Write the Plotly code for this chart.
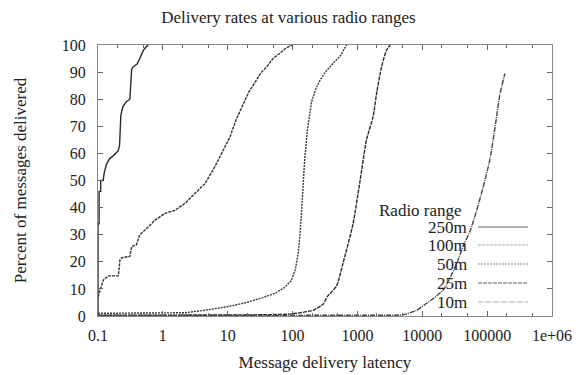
import plotly.graph_objects as go

# ---- data ----
x_250 = [0.1, 0.1, 0.104, 0.104, 0.11, 0.11, 0.12, 0.125, 0.135, 0.15, 0.17, 0.19, 0.205, 0.215, 0.22,
         0.225, 0.24, 0.27, 0.31, 0.32, 0.33, 0.35, 0.4, 0.44, 0.5, 0.56, 0.6]
y_250 = [0, 34, 34, 46, 46, 50, 50, 53, 56, 58, 59, 60, 61, 63, 70,
         74, 77, 79, 80, 88, 91, 92, 93, 95, 98, 99.5, 100]

x_100 = [0.1, 0.107, 0.121, 0.144, 0.206, 0.218, 0.232, 0.31, 0.33, 0.39, 0.44, 0.53, 0.76, 1.08, 1.54,
         2.2, 3.1, 4.5, 6.3, 8.5, 10.8, 13.5, 17.4, 21, 26, 32, 40, 50, 64, 78, 91, 100]
y_100 = [7, 9.6, 13.3, 14.8, 14.8, 20.7, 21.5, 22, 25.6, 26.2, 30, 31.7, 35.4, 37.9, 39,
         41.6, 45.3, 49, 55, 61.3, 66, 72.5, 78.5, 82.5, 86, 89.5, 92, 95, 97, 98.8, 99.6, 100]

x_50 = [0.1, 1, 2.2, 5, 8.1, 10.8, 19.5, 35, 55, 75, 95, 110, 122, 132, 142, 152, 168, 196, 230, 265, 320,
        375, 450, 535, 680]
y_50 = [1, 1, 1.2, 2.3, 3.2, 3.6, 5, 6.8, 8.5, 10.5, 13, 17, 23, 32, 44, 56, 68, 79, 84, 87, 90,
        92, 94, 95.7, 100]

x_25 = [0.1, 50, 100, 211, 300, 339, 475, 600, 855, 1100, 1380, 1740, 2000, 2360, 2800, 3200]
y_25 = [0.3, 0.5, 0.8, 2.2, 4.5, 7, 11, 19.5, 34, 50, 65, 73.5, 83, 92, 98, 100]

x_10 = [0.1, 1000, 5100, 8000, 11700, 21000, 34000, 43000, 54000, 69000, 87000, 110000, 133000,
        158000, 188000]
y_10 = [0.2, 0.3, 0.5, 2, 4.7, 9.6, 19.4, 26, 31, 39, 47.7, 57.6, 70, 82, 89.5]

series_names = ["250m", "100m", "50m", "25m", "10m"]
series_x = [x_250, x_100, x_50, x_25, x_10]
series_y = [y_250, y_100, y_50, y_25, y_10]

x_tickvals = [0.1, 1, 10, 100, 1000, 10000, 100000, 1000000]
x_ticktext = ["0.1", "1", "10", "100", "1000", "10000", "100000", "1e+06"]
y_tickvals = [0, 10, 20, 30, 40, 50, 60, 70, 80, 90, 100]

# ---- styles ----
FONT = "Liberation Serif, Times New Roman, serif"
line_colors = ["#2a2a2a", "#333333", "#3a3a3a", "#2a2a2a", "#444444"]
line_dash = ["solid", "3px,1px", "2px,1px", "4px,1px", "5px,1px,1px,1px"]
line_shape = ["linear", "linear", "linear", "spline", "spline"]
legend_colors = ["#999999", "#aaaaaa", "#888888", "#666666", "#aaaaaa"]

fig = go.Figure()
for name, xs, ys, c, d, s in zip(series_names, series_x, series_y, line_colors, line_dash, line_shape):
    fig.add_trace(go.Scatter(x=xs, y=ys, mode="lines", name=name,
                             line=dict(color=c, width=1.4, dash=d, shape=s, smoothing=0.6),
                             showlegend=False))

minor_vals = []
for dec in [0.1, 1, 10, 100, 1000, 10000, 100000]:
    minor_vals += [2 * dec, 5 * dec]

fig.update_layout(
    width=577, height=375,
    margin=dict(l=98, r=25, t=45, b=59),
    paper_bgcolor="white", plot_bgcolor="white",
    font=dict(family=FONT, size=16, color="#222222"),
    title=dict(text="Delivery rates at various radio ranges", x=0.5, xanchor="center",
               y=1 - 17 / 375, yanchor="middle", font=dict(size=17, family=FONT, color="#222222")),
)

fig.update_xaxes(
    type="log", range=[-1, 6], automargin=False,
    tickvals=x_tickvals, ticktext=x_ticktext,
    ticks="inside", ticklen=5, tickcolor="#666666",
    showline=True, linecolor="#888888", linewidth=1, mirror="ticks",
    showgrid=False, zeroline=False,
    minor=dict(tickvals=minor_vals, ticks="inside", ticklen=3, tickcolor="#666666", showgrid=False),
    tickfont=dict(size=16, family=FONT),
    ticklabelstandoff=5,
    title=dict(text="Message delivery latency", font=dict(size=17, family=FONT), standoff=12),
)
fig.update_yaxes(
    range=[0, 100], tickvals=y_tickvals, automargin=False,
    ticks="inside", ticklen=5, tickcolor="#666666",
    showline=True, linecolor="#888888", linewidth=1, mirror="ticks",
    showgrid=False, zeroline=False,
    tickfont=dict(size=16, family=FONT),
    ticklabelstandoff=8,
    title=dict(text="Percent of messages delivered", font=dict(size=17, family=FONT), standoff=30),
)

# ---- gnuplot-style key (text right-aligned, sample to the right) ----
def px_to_paper_x(px):
    return (px - 98) / (577 - 98 - 25)

def py_to_paper_y(py):
    return (316 - py) / (316 - 45)

fig.add_annotation(text="Radio range", xref="paper", yref="paper",
                   x=px_to_paper_x(377), y=py_to_paper_y(210), xanchor="left", yanchor="middle",
                   showarrow=False, font=dict(size=17, family=FONT, color="#222222"))
key_y = [227, 245, 264, 283, 302]
for name, ky, c, d in zip(series_names, key_y, legend_colors, line_dash):
    fig.add_annotation(text=name, xref="paper", yref="paper",
                       x=px_to_paper_x(469), y=py_to_paper_y(ky), xanchor="right", yanchor="middle",
                       showarrow=False, font=dict(size=17, family=FONT, color="#222222"))
    fig.add_shape(type="line", xref="paper", yref="paper",
                  x0=px_to_paper_x(478), x1=px_to_paper_x(528),
                  y0=py_to_paper_y(ky), y1=py_to_paper_y(ky),
                  line=dict(color=c, width=1.5 if d == "solid" else 1.2, dash=d))

fig.write_html("out.html")
